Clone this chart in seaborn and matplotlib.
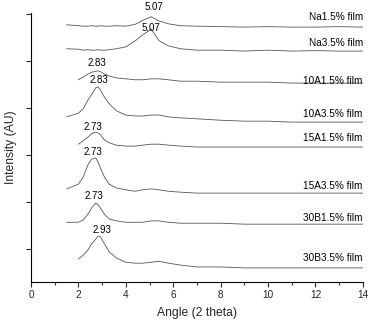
import numpy as np
import pandas as pd
import matplotlib
matplotlib.use("Agg")
import matplotlib.pyplot as plt
import seaborn as sns

# angle grid (2 theta) shared by all scans
angle = [1.5, 2.0, 2.2, 2.4, 2.55, 2.73, 2.83, 2.93, 3.1, 3.3, 3.6, 4.0, 4.4, 4.7,
         5.07, 5.4, 5.8, 6.3, 7.0, 8.0, 9.0, 10.0, 11.0, 12.0, 13.0, 14.0]
nan = np.nan

# stacked intensities (already offset)
na15 = [5.77, 5.75, 5.74, 5.74, 5.75, 5.74, 5.74, 5.75, 5.74, 5.74, 5.75, 5.74, 5.78, 5.86,
        5.94, 5.85, 5.79, 5.75, 5.74, 5.73, 5.72, 5.73, 5.72, 5.72, 5.73, 5.72]
na35 = [5.26, 5.25, 5.23, 5.24, 5.23, 5.23, 5.24, 5.23, 5.23, 5.24, 5.26, 5.30, 5.43, 5.55,
        5.68, 5.43, 5.32, 5.26, 5.23, 5.23, 5.21, 5.23, 5.21, 5.22, 5.21, 5.21]
a10_15 = [nan, 4.60, 4.66, 4.72, 4.76, 4.78, 4.79, 4.77, 4.72, 4.68, 4.64, 4.62, 4.60, 4.60,
          4.62, 4.62, 4.60, 4.57, 4.57, 4.55, 4.55, 4.55, 4.53, 4.53, 4.53, 4.53]
a10_35 = [3.81, 3.89, 3.98, 4.17, 4.28, 4.43, 4.45, 4.38, 4.23, 4.09, 3.94, 3.85, 3.83, 3.83,
          3.85, 3.85, 3.81, 3.79, 3.77, 3.74, 3.72, 3.72, 3.70, 3.70, 3.70, 3.70]
a15_15 = [nan, 3.23, 3.30, 3.38, 3.45, 3.49, 3.47, 3.43, 3.32, 3.26, 3.21, 3.19, 3.19, 3.21,
          3.23, 3.23, 3.21, 3.19, 3.17, 3.17, 3.17, 3.17, 3.17, 3.17, 3.17, 3.17]
a15_35 = [2.28, 2.38, 2.53, 2.79, 2.91, 2.94, 2.85, 2.72, 2.53, 2.38, 2.30, 2.26, 2.23, 2.26,
          2.28, 2.26, 2.23, 2.21, 2.19, 2.19, 2.19, 2.19, 2.19, 2.19, 2.19, 2.19]
b30_15 = [1.57, 1.57, 1.62, 1.74, 1.87, 1.98, 1.94, 1.87, 1.74, 1.64, 1.60, 1.57, 1.57, 1.57,
          1.60, 1.60, 1.57, 1.55, 1.55, 1.55, 1.53, 1.53, 1.53, 1.53, 1.53, 1.53]
b30_35 = [nan, 0.79, 0.87, 0.98, 1.11, 1.21, 1.28, 1.26, 1.11, 0.94, 0.81, 0.72, 0.70, 0.70,
          0.72, 0.74, 0.70, 0.66, 0.62, 0.62, 0.60, 0.60, 0.60, 0.60, 0.60, 0.60]

names = ["Na1.5% film", "Na3.5% film", "10A1.5% film", "10A3.5% film",
         "15A1.5% film", "15A3.5% film", "30B1.5% film", "30B3.5% film"]
series = [na15, na35, a10_15, a10_35, a15_15, a15_35, b30_15, b30_35]
name_y = [5.94, 5.38, 4.57, 3.87, 3.36, 2.34, 1.66, 0.81]

# peak annotations
peak_text = ["5.07", "5.07", "2.83", "2.83", "2.73", "2.73", "2.73", "2.93"]
peak_x = [5.2, 5.04, 2.77, 2.87, 2.6, 2.6, 2.66, 3.0]
peak_y = [6.15, 5.70, 4.96, 4.60, 3.60, 3.06, 2.13, 1.40]

sns.set_style("ticks")
plt.rcParams["font.family"] = ["Liberation Sans", "DejaVu Sans"]

fig = plt.figure(figsize=(3.71, 3.25), dpi=100)
ax = fig.add_axes([0.0836, 0.1323, 0.8944, 0.8277])

for name, vals in zip(names, series):
    df = pd.DataFrame({"angle": angle, "intensity": vals}).dropna()
    sns.lineplot(data=df, x="angle", y="intensity", ax=ax, color="#555555",
                 linewidth=0.6, legend=False)

for name, y in zip(names, name_y):
    ax.text(14.0, y, name, ha="right", va="center", fontsize=7.2, color="black")
for t, x, y in zip(peak_text, peak_x, peak_y):
    ax.text(x, y, t, ha="center", va="center", fontsize=7.0, color="black")

ax.set_xlim(0, 14)
ax.set_ylim(0.3, 6.02)
ax.set_xticks(range(0, 15, 2))
ax.set_xticks(range(1, 15, 2), minor=True)
ax.set_yticks(range(1, 7))
ax.set_yticklabels([])
ax.tick_params(axis="both", which="major", direction="out", length=3.5, width=0.8,
               labelsize=7.2, pad=2)
ax.tick_params(axis="x", which="minor", direction="out", length=2, width=0.8)
sns.despine(ax=ax)
for s in ["left", "bottom"]:
    ax.spines[s].set_linewidth(0.8)
    ax.spines[s].set_color("black")

ax.set_xlabel("Angle (2 theta)", fontsize=8.7, labelpad=5)
ax.set_ylabel("Intensity (AU)", fontsize=8.7)
ax.yaxis.set_label_coords(-0.042, 0.5)

fig.savefig("out.png", dpi=100)
